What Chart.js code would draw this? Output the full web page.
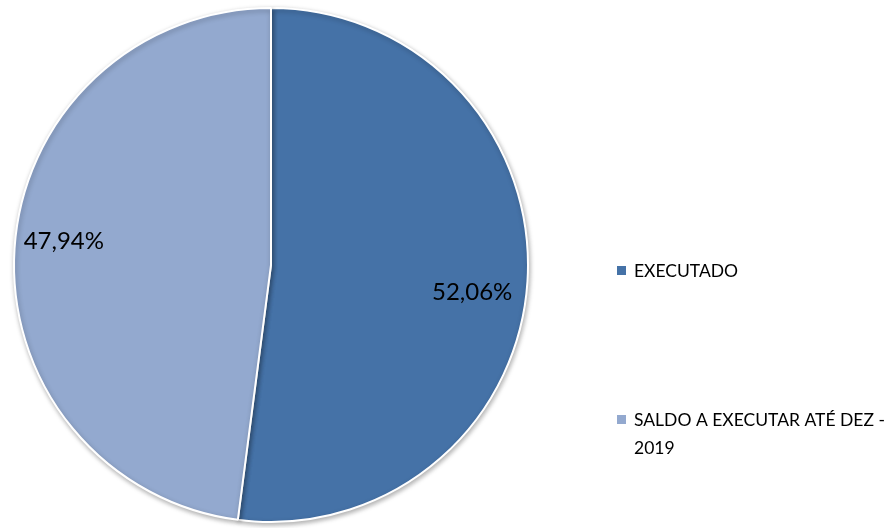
<!DOCTYPE html>
<html>
<head>
<meta charset="utf-8">
<script src="https://cdn.jsdelivr.net/npm/chart.js@4.4.0/dist/chart.umd.min.js"></script>
<style>
  html, body { margin: 0; padding: 0; background: #fff; }
  #wrap { width: 887px; height: 528px; }
</style>
</head>
<body>
<div id="wrap"><canvas id="pieChart"></canvas></div>
<script>
// Chart data
const categories = ['EXECUTADO', 'SALDO A EXECUTAR ATÉ DEZ - 2019'];
const legendLines = [['EXECUTADO'], ['SALDO A EXECUTAR ATÉ DEZ -', '2019']];
const values = [52.06, 47.94];
const colors = ['#4572A7', '#93A9CF'];

function pct(v) {
    return v.toFixed(2).replace('.', ',') + '%';
}

// soft shadow under the pie, like the office chart
const pieShadow = {
    id: 'pieShadow',
    beforeDatasetsDraw(chart) {
        const ctx = chart.ctx;
        ctx.save();
        ctx.shadowColor = 'rgba(0, 0, 0, 0.3)';
        ctx.shadowBlur = 5;
        ctx.shadowOffsetX = 1;
        ctx.shadowOffsetY = 2;
    },
    afterDatasetsDraw(chart) {
        chart.ctx.restore();
    }
};

// percentage labels inside the slices
const sliceLabels = {
    id: 'sliceLabels',
    afterDatasetsDraw(chart) {
        const ctx = chart.ctx;
        const meta = chart.getDatasetMeta(0);
        const nudge = [[-4, 14], [-2, -10]]; // small tweak, Excel "best fit"
        ctx.save();
        ctx.font = '24px Lato';
        ctx.fillStyle = '#000';
        ctx.textAlign = 'center';
        ctx.textBaseline = 'middle';
        meta.data.forEach((arc, i) => {
            const mid = (arc.startAngle + arc.endAngle) / 2;
            const r = arc.outerRadius * 0.8;
            const x = arc.x + Math.cos(mid) * r + nudge[i][0];
            const y = arc.y + Math.sin(mid) * r + nudge[i][1];
            ctx.fillText(pct(values[i]), x, y);
        });
        ctx.restore();
    }
};

// legend on the right with wrapped text
const sideLegend = {
    id: 'sideLegend',
    afterDraw(chart) {
        const ctx = chart.ctx;
        const x = 617;
        const tops = [271, 420];
        ctx.save();
        ctx.font = '17.5px Lato';
        ctx.textBaseline = 'middle';
        ctx.textAlign = 'left';
        legendLines.forEach((lines, i) => {
            ctx.fillStyle = colors[i];
            ctx.fillRect(x, tops[i] - 5, 9, 9);
            ctx.fillStyle = '#000';
            lines.forEach((t, j) => {
                ctx.fillText(t, x + 17, tops[i] + j * 28);
            });
        });
        ctx.restore();
    }
};

const ctx = document.getElementById('pieChart').getContext('2d');
new Chart(ctx, {
    type: 'pie',
    data: {
        labels: categories,
        datasets: [{
            data: values,
            backgroundColor: colors,
            borderColor: '#fff',
            borderWidth: 2
        }]
    },
    options: {
        responsive: true,
        maintainAspectRatio: false,
        animation: false,
        layout: { padding: { left: 13, top: 7, bottom: 5, right: 358 } },
        plugins: {
            legend: { display: false },
            tooltip: { enabled: false }
        }
    },
    plugins: [pieShadow, sliceLabels, sideLegend]
});
</script>
</body>
</html>
